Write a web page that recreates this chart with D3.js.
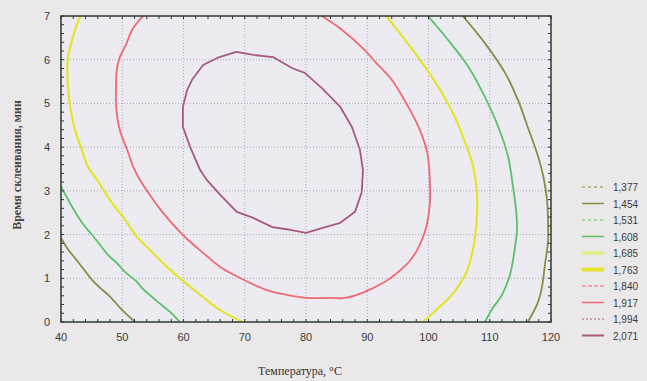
<!DOCTYPE html>
<html>
<head>
<meta charset="utf-8">
<script src="https://cdn.jsdelivr.net/npm/d3@7"></script>
<style>
  body { margin: 0; background: #ebe8e9; }
  svg { display: block; }
</style>
</head>
<body>
<div id="chart"></div>
<script>
// axis ticks
const xTicks = [40, 50, 60, 70, 80, 90, 100, 110, 120];
const yTicks = [0, 1, 2, 3, 4, 5, 6, 7];

// legend levels (as printed)
const levelLabels = ["1,377", "1,454", "1,531", "1,608", "1,685", "1,763", "1,840", "1,917", "1,994", "2,071"];

// contour lines: [temperature °C, time min]
const olive1454Left = [[40, 1.92], [41.1, 1.67], [42.3, 1.46], [43.8, 1.19], [45.1, 0.96], [46.4, 0.78],
  [47.7, 0.62], [48.8, 0.46], [50.0, 0.27], [52.1, 0]];
const olive1454Right = [[105.6, 7], [109.2, 6.38], [112.5, 5.7], [114.6, 5.08], [116.2, 4.46], [117.7, 3.87],
  [118.5, 3.48], [119.0, 3.14], [119.35, 2.79], [119.5, 2.38], [119.5, 1.83], [119.0, 1.3], [118.5, 0.78],
  [117.7, 0.39], [116.2, 0]];
const green1608Left = [[40, 3.11], [41.0, 2.84], [42.3, 2.52], [43.6, 2.24], [45.1, 1.99], [46.4, 1.76],
  [47.7, 1.53], [49.1, 1.35], [50.5, 1.14], [52.4, 0.92], [53.2, 0.78], [55.8, 0.46], [57.8, 0.23], [59.4, 0]];
const green1608Right = [[99.9, 7], [103.2, 6.45], [106.5, 5.84], [109.2, 5.15], [111.4, 4.46], [113.0, 3.78],
  [113.8, 3.09], [114.3, 2.56], [114.45, 2.11], [114.1, 1.69], [113.3, 1.08], [112.0, 0.62], [110.5, 0.32],
  [109.2, 0]];
const yellow1763Left = [[43.1, 7], [41.8, 6.45], [41.1, 6.0], [41.1, 5.47], [41.5, 4.92], [42.3, 4.39],
  [43.4, 3.94], [44.4, 3.55], [45.9, 3.25], [48.0, 2.79], [50.5, 2.33], [52.4, 1.95], [54.5, 1.65],
  [57.3, 1.26], [59.9, 0.94], [63.2, 0.57], [66.0, 0.27], [69.6, 0]];
const yellow1763Right = [[93.1, 7], [96.2, 6.45], [99.4, 5.84], [102.2, 5.24], [104.3, 4.69], [106.0, 4.1],
  [107.3, 3.55], [107.9, 2.97], [107.9, 2.38], [107.3, 1.69], [106.0, 1.08], [103.8, 0.62], [101.6, 0.32],
  [99.1, 0]];
const red1917 = [[53.4, 7], [51.6, 6.68], [50.6, 6.34], [49.6, 6.06], [49.1, 5.77], [49.0, 5.47], [49.0, 4.92],
  [49.6, 4.39], [50.8, 3.94], [51.8, 3.55], [52.9, 3.25], [54.5, 2.91], [56.7, 2.49], [59.9, 1.99],
  [63.2, 1.58], [66.0, 1.26], [69.2, 1.01], [73.6, 0.73], [76.9, 0.62], [80.2, 0.55], [83.9, 0.55],
  [86.4, 0.55], [89.1, 0.66], [92.9, 0.92], [94.5, 1.08], [97.3, 1.46], [99.4, 2.06], [100.2, 2.68],
  [100.2, 3.3], [99.8, 3.87], [98.6, 4.39], [96.7, 4.92], [94.0, 5.54], [91.3, 5.95], [89.6, 6.22],
  [85.9, 6.68], [82.6, 7]];
const purple2071 = [[68.6, 6.18], [71.4, 6.11], [74.6, 6.06], [77.7, 5.81], [79.8, 5.7], [82.6, 5.35],
  [85.6, 4.92], [87.5, 4.46], [88.8, 3.94], [89.3, 3.48], [89.1, 2.97], [88.0, 2.52], [85.6, 2.27],
  [82.6, 2.15], [80.0, 2.04], [77.4, 2.11], [74.5, 2.17], [71.4, 2.38], [68.7, 2.52], [66.0, 2.91],
  [63.8, 3.25], [62.7, 3.48], [61.1, 4.0], [59.9, 4.46], [59.9, 4.92], [60.6, 5.31], [61.4, 5.54],
  [63.2, 5.88], [65.5, 6.04], [68.6, 6.18]];

const W = 647, H = 381;
const margin = { left: 61, right: 96, top: 16, bottom: 59 };
const iw = W - margin.left - margin.right;
const ih = H - margin.top - margin.bottom;

const col = {
  olive: "#8c8a45", green: "#5cc068", paleYellow: "#e6ec8c", yellow: "#e4e42e",
  red: "#ee6a74", purple: "#a85a7e"
};

// style of each legend entry, same order as levelLabels
const legendStyles = [
  { c: col.olive, w: 1.2, dash: "3,3" },
  { c: col.olive, w: 1.5, dash: null },
  { c: col.green, w: 1.2, dash: "3,3" },
  { c: col.green, w: 1.5, dash: null },
  { c: col.paleYellow, w: 4, dash: null },
  { c: col.yellow, w: 4, dash: null },
  { c: col.red, w: 1.2, dash: "4,2" },
  { c: col.red, w: 1.5, dash: null },
  { c: col.purple, w: 1.2, dash: "2,2" },
  { c: col.purple, w: 2, dash: null }
];

const svg = d3.select("#chart").append("svg")
  .attr("width", W).attr("height", H);

svg.append("rect").attr("width", W).attr("height", H).attr("fill", "#ebe8e9");

const x = d3.scaleLinear().domain([40, 120]).range([0, iw]);
const y = d3.scaleLinear().domain([0, 7]).range([ih, 0]);

const g = svg.append("g").attr("transform", `translate(${margin.left},${margin.top})`);

g.append("rect").attr("width", iw).attr("height", ih).attr("fill", "#ebebf1");

svg.append("defs").append("clipPath").attr("id", "clip")
  .append("rect").attr("width", iw).attr("height", ih);

// grid
g.append("g").selectAll("line").data(xTicks.slice(1, -1)).join("line")
  .attr("x1", d => x(d)).attr("x2", d => x(d)).attr("y1", 0).attr("y2", ih)
  .attr("stroke", "#a9a9b6").attr("stroke-dasharray", "1,2");
g.append("g").selectAll("line").data(yTicks.slice(1, -1)).join("line")
  .attr("y1", d => y(d)).attr("y2", d => y(d)).attr("x1", 0).attr("x2", iw)
  .attr("stroke", "#a9a9b6").attr("stroke-dasharray", "1,2");

// contours
const line = d3.line().x(d => x(d[0])).y(d => y(d[1])).curve(d3.curveCatmullRom);
const jag = d3.line().x(d => x(d[0])).y(d => y(d[1]));
const curves = [
  { d: olive1454Left, c: col.olive, w: 1.8 },
  { d: olive1454Right, c: col.olive, w: 1.8 },
  { d: green1608Left, c: col.green, w: 1.8 },
  { d: green1608Right, c: col.green, w: 1.8 },
  { d: yellow1763Left, c: col.yellow, w: 2.2 },
  { d: yellow1763Right, c: col.yellow, w: 2.2 },
  { d: red1917, c: col.red, w: 1.8 }
];
const cg = g.append("g").attr("clip-path", "url(#clip)");
cg.selectAll("path.c").data(curves).join("path")
  .attr("d", d => line(d.d))
  .attr("fill", "none").attr("stroke", d => d.c).attr("stroke-width", d => d.w);
cg.append("path").attr("d", jag(purple2071))
  .attr("fill", "none").attr("stroke", col.purple).attr("stroke-width", 1.8)
  .attr("stroke-linejoin", "round");

// frame + inward ticks
const xMinor = d3.range(40, 121, 2);
const yMinor = d3.range(0, 7.01, 0.2);
const tk = g.append("g").attr("stroke", "#333").attr("stroke-width", 1);
tk.selectAll("line.b").data(xMinor).join("line").attr("class", "b")
  .attr("x1", d => x(d)).attr("x2", d => x(d)).attr("y1", ih).attr("y2", ih - 3);
tk.selectAll("line.t").data(xMinor).join("line").attr("class", "t")
  .attr("x1", d => x(d)).attr("x2", d => x(d)).attr("y1", 0).attr("y2", 3);
tk.selectAll("line.l").data(yMinor).join("line").attr("class", "l")
  .attr("y1", d => y(d)).attr("y2", d => y(d)).attr("x1", 0).attr("x2", 3);
tk.selectAll("line.r").data(yMinor).join("line").attr("class", "r")
  .attr("y1", d => y(d)).attr("y2", d => y(d)).attr("x1", iw).attr("x2", iw - 3);

g.append("rect").attr("width", iw).attr("height", ih)
  .attr("fill", "none").attr("stroke", "#2f3a30").attr("stroke-width", 1.5);

// tick labels
const font = "'Liberation Sans', Arial, sans-serif";
g.append("g").selectAll("text").data(xTicks).join("text")
  .attr("x", d => x(d)).attr("y", ih + 19)
  .attr("text-anchor", "middle").attr("font-family", font).attr("font-size", 11)
  .attr("fill", "#3a3a3a").text(d => d);
g.append("g").selectAll("text").data(yTicks).join("text")
  .attr("x", -11).attr("y", d => y(d) + 4)
  .attr("text-anchor", "end").attr("font-family", font).attr("font-size", 11)
  .attr("fill", "#3a3a3a").text(d => d);

// axis titles
svg.append("text").attr("x", 300).attr("y", 375)
  .attr("text-anchor", "middle").attr("font-family", "'Liberation Serif', serif")
  .attr("font-size", 12).attr("fill", "#333").text("Температура, °С");
svg.append("text").attr("transform", "translate(21,165) rotate(-90)")
  .attr("text-anchor", "middle").attr("font-family", "'Liberation Serif', serif")
  .attr("font-size", 12).attr("font-weight", "bold").attr("fill", "#444")
  .text("Время склеивания, мин");

// legend
const lg = svg.append("g").attr("transform", "translate(582,187)");
const rows = lg.selectAll("g").data(levelLabels).join("g")
  .attr("transform", (d, i) => `translate(0,${i * 16.5})`);
rows.append("line").attr("x1", 0).attr("x2", 22).attr("y1", 0).attr("y2", 0)
  .attr("stroke", (d, i) => legendStyles[i].c)
  .attr("stroke-width", (d, i) => legendStyles[i].w)
  .attr("stroke-dasharray", (d, i) => legendStyles[i].dash);
rows.append("text").attr("x", 31).attr("y", 4)
  .attr("font-family", font).attr("font-size", 10).attr("fill", "#3a3a3a")
  .text(d => d);
</script>
</body>
</html>
